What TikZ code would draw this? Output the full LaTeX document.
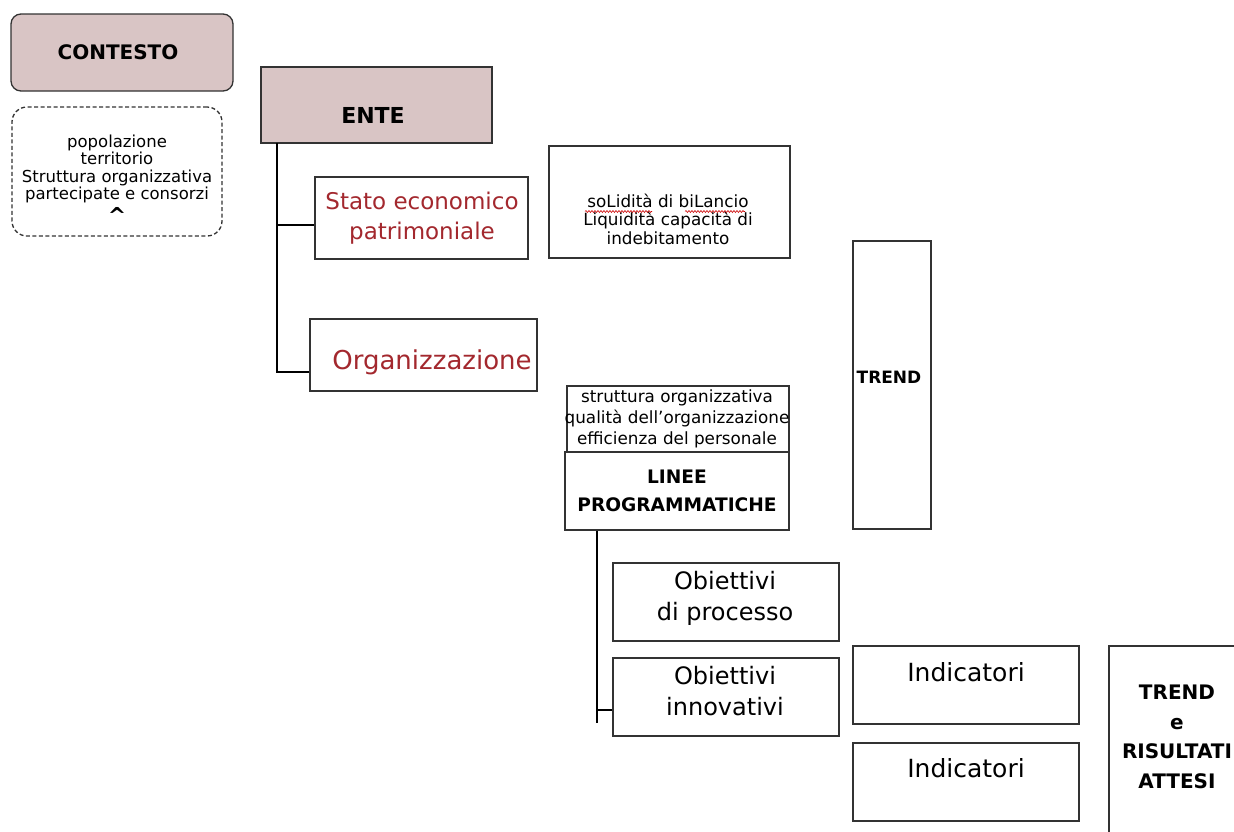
\documentclass[tikz,border=0pt]{standalone}
\usepackage{fontspec}
\setmainfont{DejaVu Sans}
\usetikzlibrary{calc,decorations.pathmorphing}
\definecolor{boxpink}{HTML}{D9C5C5}
\definecolor{linec}{HTML}{333333}
\definecolor{redtext}{HTML}{A3282E}
\tikzset{
  box/.style={draw=linec, line width=1.3pt, inner sep=0pt},
  txt/.style={inner sep=0pt, align=center, text=black},
  conn/.style={draw=black, line width=1.3pt},
  squiggle/.style={draw=red!80!black, line width=0.6pt, decorate, decoration={snake, amplitude=1pt, segment length=3pt}},
}
\begin{document}
\begin{tikzpicture}[x=1pt,y=-1pt]
\useasboundingbox (0,0) rectangle (1234,831);
\clip (0,0) rectangle (1234,831);
\fill[white] (0,0) rectangle (1234,831);
% CONTESTO
\node[box, fill=boxpink, rounded corners=10pt, minimum width=222pt, minimum height=77pt] (contesto) at (122,52.5) {};
\node[txt, font=\bfseries\fontsize{20}{22}\selectfont] (contestot) at (118,52) {CONTESTO};
\node[box, dashed, dash pattern=on 4pt off 2.5pt, rounded corners=15pt, minimum width=210pt, minimum height=129pt] (ctxd) at (117,171.5) {};
\node[txt, font=\fontsize{16.5}{17.5}\selectfont] (ctxt) at (117,169) {popolazione\\territorio\\Struttura organizzativa\\partecipate e consorzi};
\node[txt, font=\bfseries\fontsize{22}{22}\selectfont] (caret) at (117,215) {\^{}};
% ENTE
\node[box, fill=boxpink, minimum width=231pt, minimum height=76pt] (ente) at (376.5,105) {};
\node[txt, font=\bfseries\fontsize{22}{24}\selectfont] (entet) at (373,115) {ENTE};
% Stato
\node[box, minimum width=213pt, minimum height=82pt] (stato) at (421.5,218) {};
\node[txt, text=redtext, font=\fontsize{23}{30}\selectfont] (statot) at (422,218) {Stato economico\\patrimoniale};
% Organizzazione
\node[box, minimum width=227pt, minimum height=72pt] (org) at (423.5,355) {};
\node[txt, text=redtext, font=\fontsize{26}{30}\selectfont] (orgt) at (432,362) {Organizzazione};
% connectors ENTE
\coordinate (t1) at (277,143);
\draw[conn] (t1) -- (277,372) -- (org.west |- 0,372);
\draw[conn] (277,225) -- (stato.west |- 0,225);
% solidita
\node[box, minimum width=241pt, minimum height=112pt] (solid) at (669.5,202) {};
\node[txt, font=\fontsize{16.8}{18.5}\selectfont] (solidt) at (668,219) {soLidità di biLancio\\Liquidità capacità di\\indebitamento};
\draw[squiggle] (585,211.5) -- (652,211.5);
\draw[squiggle] (685,211.5) -- (745,211.5);
% TREND tall
\node[box, minimum width=78pt, minimum height=288pt] (trend1) at (892,385) {};
\node[txt, font=\bfseries\fontsize{17}{20}\selectfont] (trend1t) at (889,377) {TREND};
% struttura / linee
\node[box, minimum width=222pt, minimum height=66pt] (strutt) at (678,419) {};
\node[txt, font=\fontsize{16.8}{21}\selectfont] (struttt) at (677,419) {struttura organizzativa\\qualità dell'organizzazione\\efficienza del personale};
\node[box, minimum width=224pt, minimum height=78pt] (linee) at (677,491) {};
\node[txt, font=\bfseries\fontsize{18.6}{28}\selectfont] (lineet) at (677,491) {LINEE\\PROGRAMMATICHE};
% obiettivi
\node[box, minimum width=226pt, minimum height=78pt] (obproc) at (726,602) {};
\node[txt, font=\fontsize{24}{31}\selectfont] (obproct) at (725,598) {Obiettivi\\di processo};
\node[box, minimum width=226pt, minimum height=78pt] (obinn) at (726,697) {};
\node[txt, font=\fontsize{24}{31}\selectfont] (obinnt) at (725,691) {Obiettivi\\innovativi};
\coordinate (t2) at (597,723);
\draw[conn] (linee.south -| 597,0) -- (t2);
\draw[conn] (597,710) -- (obinn.west |- 0,710);
% indicatori
\node[box, minimum width=226pt, minimum height=78pt] (ind1) at (966,685) {};
\node[txt, font=\fontsize{25}{25}\selectfont] (ind1t) at (966,672) {Indicatori};
\node[box, minimum width=226pt, minimum height=78pt] (ind2) at (966,782) {};
\node[txt, font=\fontsize{25}{25}\selectfont] (ind2t) at (966,768) {Indicatori};
% TREND e RISULTATI
\node[box, minimum width=160pt, minimum height=200pt] (trend2) at (1189,746) {};
\node[txt, font=\bfseries\fontsize{20}{29.5}\selectfont] (trend2t) at (1177,737) {TREND\\e\\RISULTATI\\ATTESI};
\end{tikzpicture}
\end{document}
